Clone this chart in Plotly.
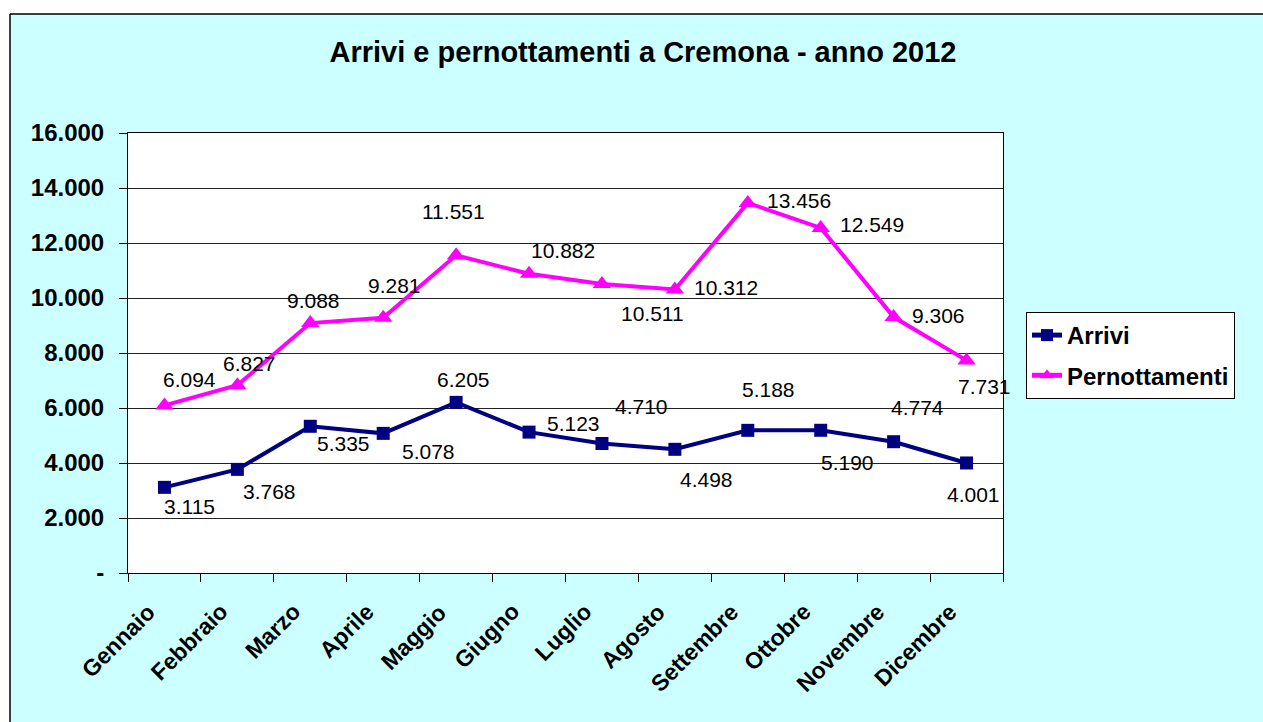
import plotly.graph_objects as go

months = ["Gennaio", "Febbraio", "Marzo", "Aprile", "Maggio", "Giugno",
          "Luglio", "Agosto", "Settembre", "Ottobre", "Novembre", "Dicembre"]
arrivi = [3115, 3768, 5335, 5078, 6205, 5123, 4710, 4498, 5188, 5190, 4774, 4001]
pernottamenti = [6094, 6827, 9088, 9281, 11551, 10882, 10511, 10312, 13456, 12549, 9306, 7731]
y_tickvals = [0, 2000, 4000, 6000, 8000, 10000, 12000, 14000, 16000]
y_ticktext = ["-", "2.000", "4.000", "6.000", "8.000", "10.000", "12.000", "14.000", "16.000"]

# label pixel offsets (style only): (dx, dy) with dy downward
arr_off = [(25, 19), (32, 22), (33, 17), (45, 18), (7, -23), (44, -9),
           (40, -37), (32, 30), (21, -41), (27, 32), (24, -34), (7, 32)]
per_off = [(25, -26), (12, -22), (3, -23), (11, -32), (-3, -44), (34, -23),
           (51, 30), (51, -2), (51, -2), (51, -3), (45, -2), (18, 26)]

FONT = "Liberation Sans, Arial, sans-serif"
CYAN = "#CCFFFF"
NAVY = "#000080"
MAGENTA = "#FF00FF"


def fmt(v):
    return f"{v:,}".replace(",", ".")


fig = go.Figure()
fig.add_trace(go.Scatter(
    x=months, y=arrivi, name="Arrivi", mode="lines+markers", legendgroup="a",
    line=dict(color=NAVY, width=4),
    marker=dict(symbol="square", size=13, color=NAVY),
))
fig.add_trace(go.Scatter(
    x=months, y=pernottamenti, name="Pernottamenti", mode="lines+markers", legendgroup="b",
    line=dict(color=MAGENTA, width=4),
    marker=dict(symbol="triangle-up", size=16, color=MAGENTA),
))

annotations = []
for series, offs in ((arrivi, arr_off), (pernottamenti, per_off)):
    for m, v, (dx, dy) in zip(months, series, offs):
        annotations.append(dict(
            x=m, y=v, xref="x", yref="y", text=fmt(v), showarrow=False,
            xshift=dx, yshift=-dy, xanchor="center", yanchor="middle",
            font=dict(family=FONT, size=21, color="black"),
        ))

# rotated category labels
for m in months:
    annotations.append(dict(
        x=m, y=0, xref="x", yref="y", text=f"<b>{m}</b>", showarrow=False,
        textangle=-45, xanchor="right", yanchor="top", xshift=-2, yshift=-23,
        font=dict(family=FONT, size=23, color="black"),
    ))

W, H = 1263, 722
L, R, T, B = 128, 1003, 133, 573
pw, ph = R - L, B - T


def px_x(px):
    return (px - L) / pw


def px_y(py):
    return (B - py) / ph


shapes = [
    dict(type="rect", xref="paper", yref="paper", x0=px_x(-5), x1=px_x(W + 5),
         y0=px_y(14), y1=px_y(-5), fillcolor="white", line=dict(width=0), layer="above"),
    dict(type="rect", xref="paper", yref="paper", x0=px_x(-5), x1=px_x(10),
         y0=px_y(H + 5), y1=px_y(-5), fillcolor="white", line=dict(width=0), layer="above"),
    dict(type="line", xref="paper", yref="paper", x0=px_x(10), x1=px_x(W + 5),
         y0=px_y(14), y1=px_y(14), line=dict(color="black", width=1.5)),
    dict(type="line", xref="paper", yref="paper", x0=px_x(10), x1=px_x(10),
         y0=px_y(14), y1=px_y(H + 5), line=dict(color="black", width=1.5)),
]

fig.update_layout(
    width=W, height=H,
    margin=dict(l=L, r=W - R, t=T, b=H - B),
    paper_bgcolor=CYAN, plot_bgcolor="white",
    font=dict(family=FONT, color="black"),
    title=dict(text="<b>Arrivi e pernottamenti a Cremona - anno 2012</b>",
               x=px_x(643), xref="paper", xanchor="center",
               y=1 - 52 / H, yref="container", yanchor="middle",
               font=dict(family=FONT, size=29, color="black")),
    showlegend=True,
    legend=dict(x=px_x(1026), y=px_y(312), xanchor="left", yanchor="top",
                bgcolor="white", bordercolor="black", borderwidth=1,
                font=dict(family=FONT, size=24, color="black", weight="bold"),
                itemsizing="constant", tracegroupgap=6),
    annotations=annotations,
    shapes=shapes,
)

fig.update_xaxes(
    type="category", range=[-0.5, len(months) - 0.5], autorange=False,
    tickson="boundaries", ticks="outside", ticklen=8,
    tickcolor="black", tickwidth=1, showline=True, linecolor="black", linewidth=1,
    mirror=True, showgrid=False, showticklabels=False,
)
fig.update_yaxes(
    range=[0, 16000], autorange=False, tickvals=y_tickvals, ticktext=y_ticktext,
    ticks="outside", ticklen=8, tickcolor="black", tickwidth=1,
    showline=True, linecolor="black", linewidth=1, mirror=True,
    showgrid=True, gridcolor="#222222", gridwidth=1, zeroline=False,
    tickfont=dict(family=FONT, size=24, color="black", weight="bold"),
    ticklabelstandoff=10,
)

fig.write_html("out.html", config={"displayModeBar": False},
               post_script="document.body.style.margin='0px';")
